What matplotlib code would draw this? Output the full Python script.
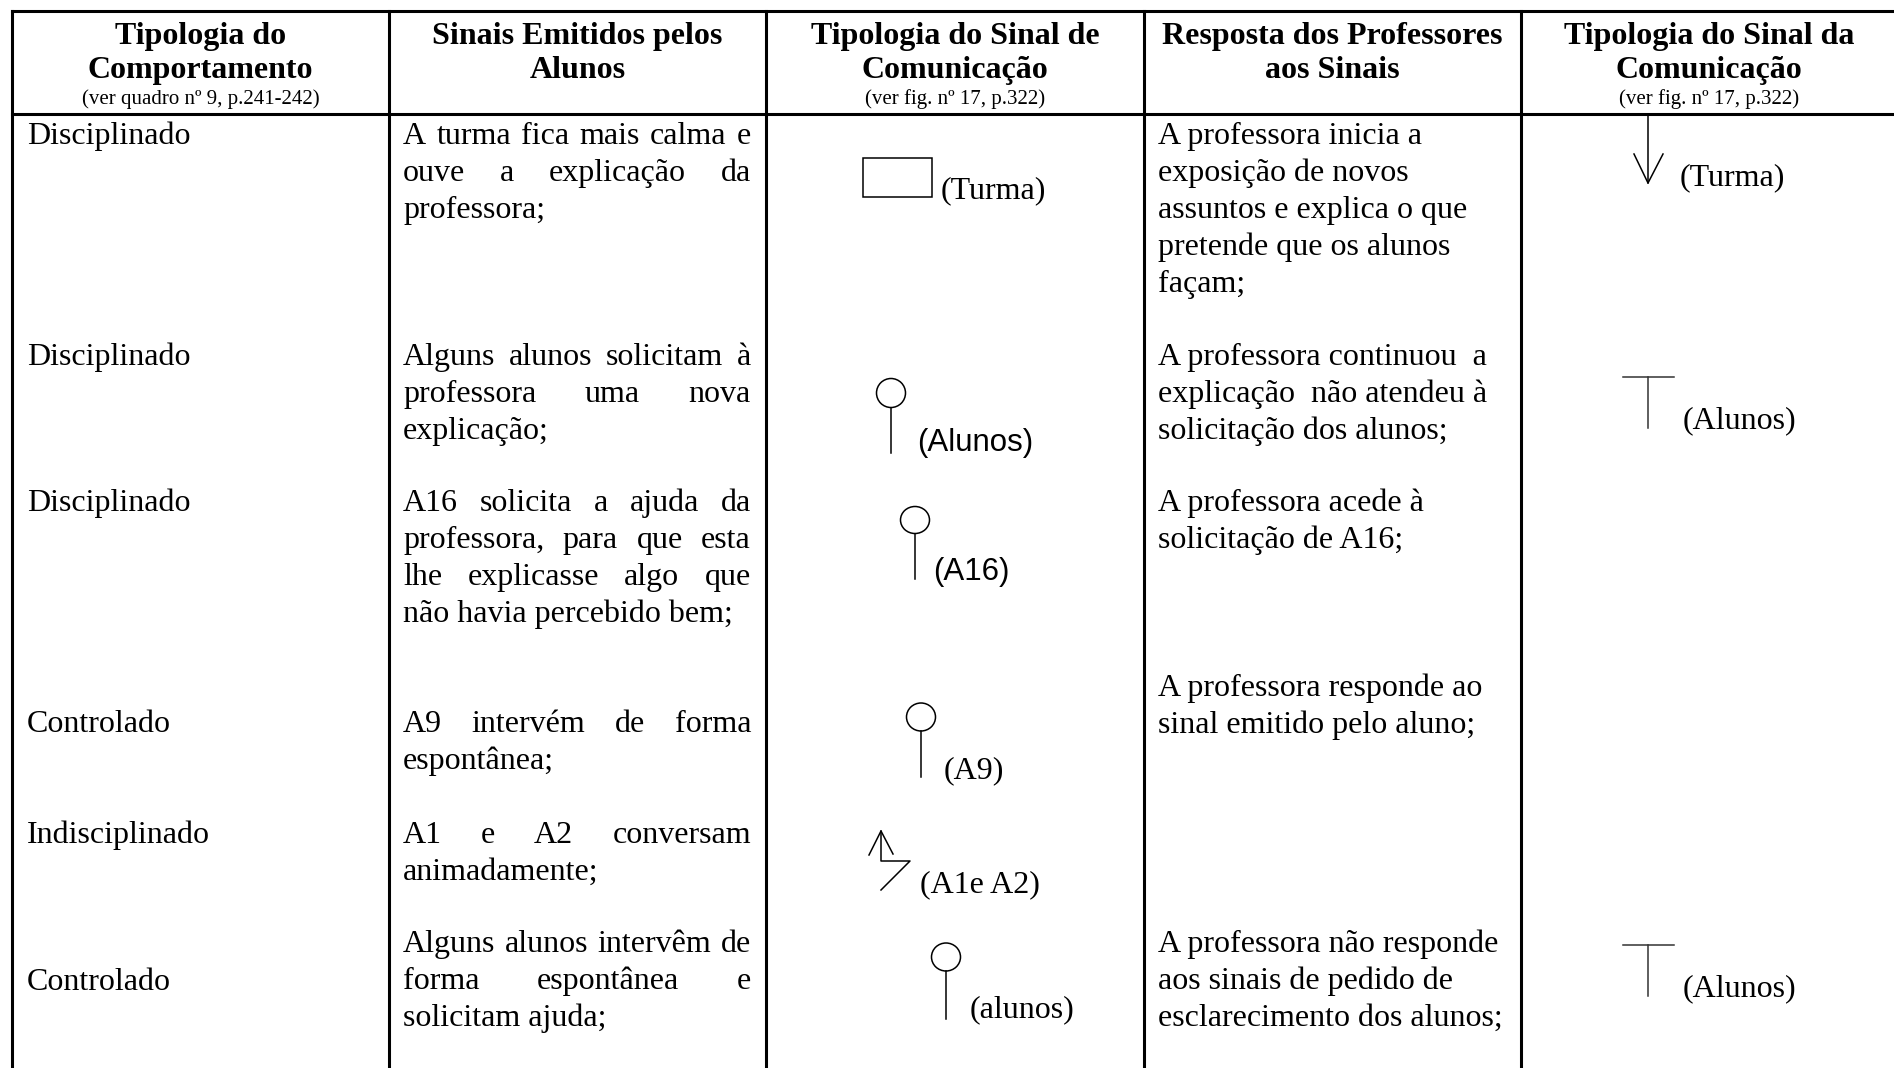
import matplotlib.pyplot as plt
from matplotlib.patches import Rectangle, Ellipse

# Conteúdo da tabela
cabecalhos = [
    (["Tipologia do", "Comportamento"], "(ver quadro nº 9, p.241-242)"),
    (["Sinais Emitidos pelos", "Alunos"], None),
    (["Tipologia do Sinal de", "Comunicação"], "(ver fig. nº 17, p.322)"),
    (["Resposta dos Professores", "aos Sinais"], None),
    (["Tipologia do Sinal da", "Comunicação"], "(ver fig. nº 17, p.322)"),
]

comportamento = ["Disciplinado", "Disciplinado", "Disciplinado",
                 "Controlado", "Indisciplinado", "Controlado"]

sinais_alunos = [
    ["A turma fica mais calma e", "ouve a explicação da", "professora;"],
    ["Alguns alunos solicitam à", "professora uma nova", "explicação;"],
    ["A16 solicita a ajuda da", "professora, para que esta",
     "lhe explicasse algo que", "não havia percebido bem;"],
    ["A9 intervém de forma", "espontânea;"],
    ["A1 e A2 conversam", "animadamente;"],
    ["Alguns alunos intervêm de", "forma espontânea e", "solicitam ajuda;"],
]

resposta_prof = [
    ["A professora inicia a", "exposição de novos", "assuntos e explica o que",
     "pretende que os alunos", "façam;"],
    ["A professora continuou  a", "explicação  não atendeu à", "solicitação dos alunos;"],
    ["A professora acede à", "solicitação de A16;"],
    ["A professora responde ao", "sinal emitido pelo aluno;"],
    [],
    ["A professora não responde", "aos sinais de pedido de", "esclarecimento dos alunos;"],
]

sinal_alunos_tipo = ["grupo", "emissor", "emissor", "emissor", "conversa", "emissor"]
sinal_alunos_rotulo = ["(Turma)", "(Alunos)", "(A16)", "(A9)", "(A1e A2)", "(alunos)"]
sinal_prof_tipo = ["descendente", "bloqueio", None, None, None, "bloqueio"]
sinal_prof_rotulo = ["(Turma)", "(Alunos)", None, None, None, "(Alunos)"]

# Layout (em píxeis da imagem)
W, H = 1894, 1068
col_x = [12, 389, 766, 1144, 1521, 1897]
topo, fim_cab = 11, 114
passo = 36.9
y_col1 = [144, 365, 511, 732, 843, 990]
y_col2 = [144, 365, 511, 732, 843, 952]
y_col4 = [144, 365, 511, 696, None, 952]

serif = "Liberation Serif"
sans = "Liberation Sans"
fs_corpo = 23

fig = plt.figure(figsize=(W / 100, H / 100), dpi=100)
ax = fig.add_axes([0, 0, 1, 1])
ax.set_xlim(0, W)
ax.set_ylim(H, 0)
ax.axis("off")
r = fig.canvas.get_renderer()

# grelha
for x in col_x:
    ax.plot([x, x], [topo, H + 5], color="black", lw=2.2, solid_capstyle="projecting")
for y in [topo, fim_cab]:
    ax.plot([col_x[0], col_x[-1]], [y, y], color="black", lw=2.2, solid_capstyle="projecting")

# cabeçalhos
for i, (linhas, nota) in enumerate(cabecalhos):
    cx = (col_x[i] + col_x[i + 1]) / 2
    for j, txt in enumerate(linhas):
        ax.text(cx, 44 + 34 * j, txt, ha="center", va="baseline", family=serif,
                fontweight="bold", fontsize=23)
    if nota:
        ax.text(cx, 104, nota, ha="center", va="baseline", family=serif, fontsize=15)


def largura(txt):
    t = ax.text(0, 0, txt, family=serif, fontsize=fs_corpo)
    w = t.get_window_extent(renderer=r).width
    t.remove()
    return w


def justificado(txt, x0, x1, y):
    palavras = txt.split()
    ws = [largura(p) for p in palavras]
    gap = (x1 - x0 - sum(ws)) / (len(palavras) - 1)
    x = x0
    for p, w in zip(palavras, ws):
        ax.text(x, y, p, ha="left", va="baseline", family=serif, fontsize=fs_corpo)
        x += w + gap


# coluna 1
for txt, y in zip(comportamento, y_col1):
    ax.text(27, y, txt, ha="left", va="baseline", family=serif, fontsize=fs_corpo)

# coluna 2 (justificada)
for linhas, y0 in zip(sinais_alunos, y_col2):
    for j, txt in enumerate(linhas):
        y = y0 + passo * j
        if j < len(linhas) - 1:
            justificado(txt, 403, 751, y)
        else:
            ax.text(403, y, txt, ha="left", va="baseline", family=serif, fontsize=fs_corpo)

# coluna 4
for linhas, y0 in zip(resposta_prof, y_col4):
    for j, txt in enumerate(linhas):
        ax.text(1158, y0 + passo * j, txt, ha="left", va="baseline",
                family=serif, fontsize=fs_corpo)

# símbolos da coluna 3
lw_s = 1.1
pinos = {1: (891, 393, 29, 29, 453), 2: (915, 520, 29, 27, 579),
         3: (921, 717, 29, 28, 777), 5: (946, 957, 29, 28, 1019)}
rot_pos = [(941, 198, serif), (917, 451, sans), (933, 580, sans),
           (944, 778, serif), (920, 892, serif), (970, 1017, serif)]
for i, tipo in enumerate(sinal_alunos_tipo):
    if tipo == "grupo":
        ax.add_patch(Rectangle((863, 158), 69, 39, fill=False, ec="black", lw=lw_s))
    elif tipo == "emissor":
        cx, cy, w, h, y_fim = pinos[i]
        ax.add_patch(Ellipse((cx, cy), w, h, fill=False, ec="black", lw=lw_s))
        ax.plot([cx, cx], [cy + h / 2, y_fim], color="black", lw=lw_s)
    elif tipo == "conversa":
        ax.plot([869, 881, 893], [855, 831, 854], color="black", lw=lw_s)
        ax.plot([881, 881, 910, 881], [831, 861, 861, 890], color="black", lw=lw_s)
    x, y, fam = rot_pos[i]
    fs = 22.5 if fam == sans else fs_corpo
    ax.text(x, y, sinal_alunos_rotulo[i], ha="left", va="baseline", family=fam, fontsize=fs)

# símbolos da coluna 5
t_pos = {1: (377, 428), 5: (945, 996)}
for i, tipo in enumerate(sinal_prof_tipo):
    if tipo == "descendente":
        ax.plot([1648, 1648], [fim_cab, 183], color="black", lw=lw_s)
        ax.plot([1634, 1648, 1663], [154, 183, 154], color="black", lw=lw_s)
        ax.text(1680, 185, sinal_prof_rotulo[i], ha="left", va="baseline",
                family=serif, fontsize=fs_corpo)
    elif tipo == "bloqueio":
        yt, yl = t_pos[i]
        ax.plot([1623, 1674], [yt, yt], color="#333333", lw=lw_s)
        ax.plot([1648, 1648], [yt, yt + 51], color="#333333", lw=lw_s)
        ax.text(1683, yl, sinal_prof_rotulo[i], ha="left", va="baseline",
                family=serif, fontsize=fs_corpo)

fig.savefig("out.png", dpi=100)
